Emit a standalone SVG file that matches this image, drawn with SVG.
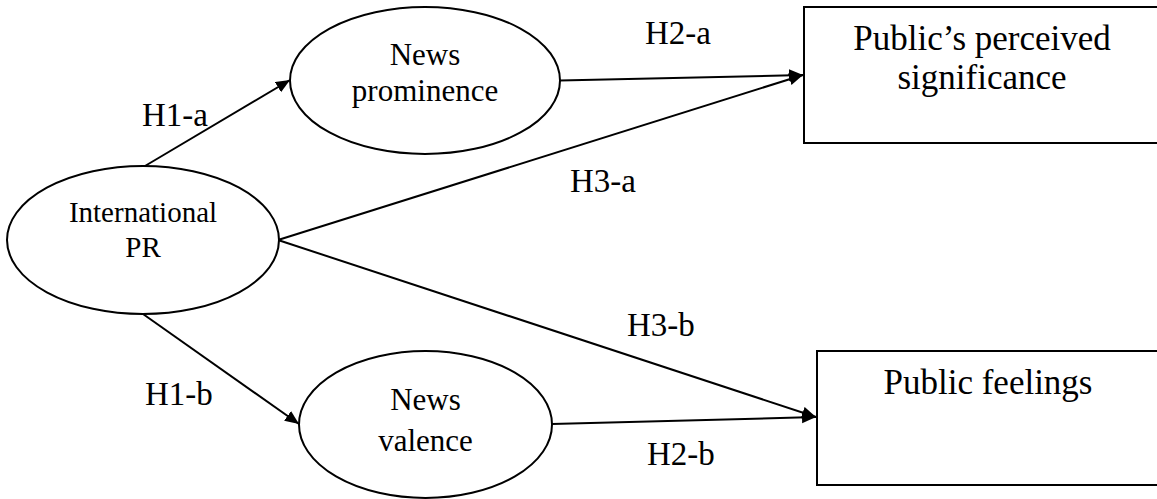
<svg xmlns="http://www.w3.org/2000/svg" width="1157" height="499" viewBox="0 0 1157 499">
<defs>
<style>
.shape{fill:#fff;stroke:#000;stroke-width:2}
.t{font-family:"Liberation Serif","Times New Roman",serif;fill:#000;text-anchor:middle}
.lbl{font-family:"Liberation Serif","Times New Roman",serif;fill:#000;font-size:33px}
.edge{stroke:#000;stroke-width:2;fill:none;marker-end:url(#arr)}
</style>
<marker id="arr" markerUnits="userSpaceOnUse" markerWidth="15" markerHeight="13" refX="14" refY="6" orient="auto">
<path d="M0,0 L14,6 L0,12 z" fill="#000"/>
</marker>
</defs>
<rect width="1157" height="499" fill="#fff"/>
<g id="connectors">
<line class="edge" x1="145" y1="166" x2="290" y2="80"/>
<line class="edge" x1="143" y1="314" x2="299" y2="424"/>
<line class="edge" x1="560" y1="80.5" x2="803" y2="75"/>
<line class="edge" x1="278" y1="240" x2="803" y2="75"/>
<line class="edge" x1="278" y1="240" x2="816" y2="417"/>
<line class="edge" x1="552" y1="424" x2="816" y2="417"/>
</g>
<g id="labels">
<text class="lbl" x="142" y="126">H1-a</text>
<text class="lbl" x="645" y="44">H2-a</text>
<text class="lbl" x="570" y="192">H3-a</text>
<text class="lbl" x="627" y="336">H3-b</text>
<text class="lbl" x="145" y="405">H1-b</text>
<text class="lbl" x="647" y="465">H2-b</text>
</g>
<g id="international-pr">
<ellipse class="shape" cx="143" cy="240" rx="136" ry="74"/>
<text class="t" x="143" y="222" font-size="29">International</text>
<text class="t" x="143" y="257" font-size="29">PR</text>
</g>
<g id="news-prominence">
<ellipse class="shape" cx="425" cy="80.5" rx="135" ry="73.5"/>
<text class="t" x="425" y="65" font-size="31">News</text>
<text class="t" x="425" y="101" font-size="31">prominence</text>
</g>
<g id="news-valence">
<ellipse class="shape" cx="425.5" cy="424.5" rx="126.5" ry="73.5"/>
<text class="t" x="425.5" y="410" font-size="31">News</text>
<text class="t" x="425.5" y="451" font-size="31">valence</text>
</g>
<g id="perceived-significance">
<rect class="shape" x="804" y="7" width="360" height="136"/>
<text class="t" x="982" y="50" font-size="35">Public’s perceived</text>
<text class="t" x="982" y="89" font-size="35">significance</text>
</g>
<g id="public-feelings">
<rect class="shape" x="817" y="351" width="350" height="134"/>
<text class="t" x="988" y="394" font-size="35">Public feelings</text>
</g>
</svg>
